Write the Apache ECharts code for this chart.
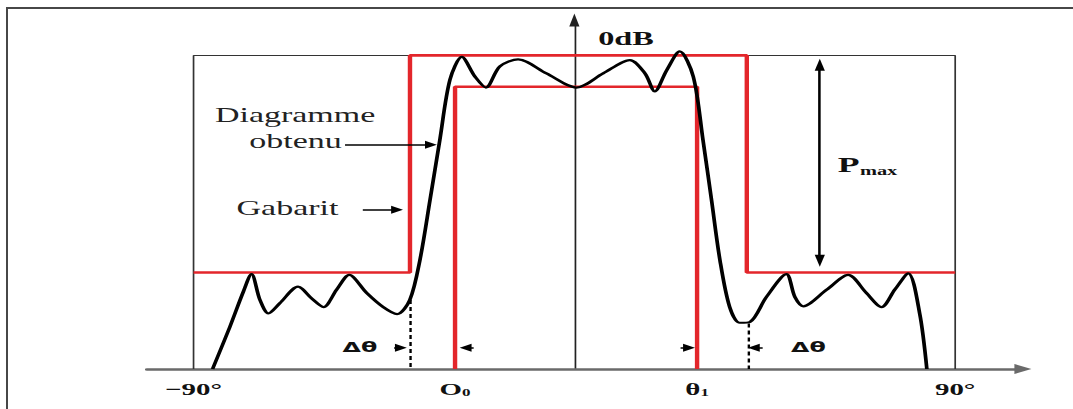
<!DOCTYPE html>
<html>
<head>
<meta charset="utf-8">
<script src="https://cdn.jsdelivr.net/npm/echarts@6/dist/echarts.min.js"></script>
<style>
  html, body { margin: 0; padding: 0; background: #fff; overflow: hidden; }
  #chart { height: 409px; transform-origin: 0 0; }
  /* outer border of the scanned figure */
  #frame {
    position: absolute; left: 6px; top: 7px; width: 2000px; height: 2000px;
    border-left: 2px solid #474747; border-top: 2px solid #474747;
    pointer-events: none;
  }
</style>
</head>
<body>
<div id="chart"></div>
<div id="frame"></div>
<script>
// the source scan is stretched sideways, so the chart is drawn narrow and scaled in x
const K = 1.7

// x ticks (degrees) and their labels
const xTicks = [-90, -28.2, 29.0, 90]
const xTickLabels = ['−90°', '{m|O}{s|0}', '{m|θ}{s|1}', '90°']

// frame of the diagram: [deg, dB]
const box = [[-90, -40], [-90, 0], [90, 0], [90, -40]]
// upper template (gabarit)
const gabarit = [[-90, -27.7], [-38.85, -27.7], [-38.85, 0], [40.75, 0], [40.75, -27.7], [90, -27.7]]
// lower template between O0 and θ1
const innerMask = [[-28.2, -40], [-28.2, -4], [29.0, -4], [29.0, -40]]

// obtained pattern
const pattern = [
  [-85.5, -40], [-81.4, -34.6], [-78.2, -30.1], [-76.3, -27.9], [-74.3, -31.2], [-72.3, -32.9],
  [-69.6, -31.6], [-65.3, -29.5], [-62.1, -31.0], [-59.3, -32.1], [-56.2, -29.9], [-53.2, -28.0],
  [-49.1, -30.3], [-45.2, -32.1], [-41.9, -33.0], [-38.9, -31.2], [-36.5, -26.1], [-34.1, -18.4],
  [-31.8, -10.8], [-29.4, -3.1], [-26.6, -0.2], [-23.5, -2.7], [-20.9, -4.1], [-17.6, -1.4],
  [-13.3, -0.5], [-6.6, -2.3], [0.5, -4.1], [6.8, -2.3], [13.1, -0.6], [16.7, -2.3],
  [19.0, -4.6], [21.8, -1.9], [24.9, 0.5], [28.1, -2.7], [30.4, -10.8], [32.4, -18.4],
  [34.4, -26.1], [36.7, -32.1], [39.1, -34.1], [41.5, -34.0], [45.4, -30.8], [50.1, -27.9],
  [52.1, -30.8], [54.1, -32.0], [59.6, -29.9], [64.7, -28.0], [69.0, -30.3], [72.6, -32.1],
  [75.7, -29.9], [78.9, -27.8], [81.6, -32.9], [83.3, -40]
]

// dashed guides below the template edges: [x, yTop, yBottom]
const guides = [[-38.85, -31.2, -40], [41.0, -34.2, -40]]

// single arrows: [xTail, yTail, xHead, yHead]
const arrows = [
  [-54.2, -11.4, -33.9, -11.4],
  [-50.0, -19.7, -41.9, -19.7],
  [-42.6, -37.3, -41.0, -37.3],
  [-23.8, -37.3, -25.7, -37.3],
  [25.1, -37.3, 27.1, -37.3],
  [44.5, -37.3, 42.4, -37.3]
]
// Pmax double arrow: [x, yTop, yBottom]
const pmaxArrow = [58.0, -1.2, -26.2]

// text notes in data coordinates
const notes = [
  { text: '0dB', x: 12.2, y: 2.2, kind: 'bold' },
  { text: 'Diagramme', x: -66.0, y: -7.6, kind: 'label' },
  { text: 'obtenu', x: -65.9, y: -11.0, kind: 'label' },
  { text: 'Gabarit', x: -67.8, y: -19.5, kind: 'label' },
  { text: 'P', x: 64.8, y: -14.0, kind: 'big' },
  { text: 'max', x: 71.9, y: -14.8, kind: 'sub' },
  { text: 'Δθ', x: -50.7, y: -37.3, kind: 'delta' },
  { text: 'Δθ', x: 55.3, y: -37.3, kind: 'delta' }
]

const SERIF = '"Liberation Serif", "Times New Roman", "DejaVu Serif", serif'
const noteStyle = {
  bold: { family: SERIF, size: 19, weight: 'bold', color: '#111' },
  label: { family: SERIF, size: 20, weight: 400, color: '#222' },
  big: { family: SERIF, size: 21, weight: 'bold', color: '#111' },
  sub: { family: SERIF, size: 12, weight: 'bold', color: '#111' },
  delta: { family: 'DejaVu Sans', size: 14, weight: 'bold', color: '#111' }
}

const RED = '#e3262b'
const el = document.getElementById('chart')
el.style.width = (1073 / K) + 'px'
el.style.transform = 'scaleX(' + K + ')'
const chart = echarts.init(el, null, { renderer: 'svg' })

const markLines = arrows.map(a => [
  { coord: [a[0], a[1]], symbol: 'none' },
  { coord: [a[2], a[3]], symbol: 'triangle', symbolSize: [8, 7] }
])
markLines.push([
  { coord: [pmaxArrow[0], pmaxArrow[1]], symbol: 'triangle', symbolSize: [6, 12] },
  { coord: [pmaxArrow[0], pmaxArrow[2]], symbol: 'triangle', symbolSize: [6, 12] }
])
guides.forEach(g => {
  markLines.push([
    { coord: [g[0], g[1]], symbol: 'none', lineStyle: { type: [4, 3], width: 1.4 } },
    { coord: [g[0], g[2]], symbol: 'none' }
  ])
})

const option = {
  animation: false,
  grid: {
    left: 147 / K,
    right: (1073 - 1023.2) / K,
    top: 20.1,
    bottom: 40,
    containLabel: false,
    outerBoundsMode: 'none'
  },
  xAxis: {
    type: 'value',
    min: -101,
    max: 106,
    splitLine: { show: false },
    axisTick: { show: false },
    axisLine: {
      onZero: false,
      symbol: ['none', 'triangle'],
      symbolSize: [10, 10],
      lineStyle: { color: '#6a6a6a', width: 2.5 }
    },
    axisLabel: {
      customValues: xTicks,
      margin: 12,
      color: '#111',
      fontFamily: 'Liberation Serif',
      fontWeight: 'bold',
      fontSize: 17,
      formatter: v => {
        const i = xTicks.findIndex(t => Math.abs(t - v) < 0.01)
        return i < 0 ? '' : xTickLabels[i]
      },
      rich: {
        m: { fontFamily: 'Liberation Serif', fontWeight: 'bold', fontSize: 17, color: '#111' },
        s: { fontFamily: 'Liberation Serif', fontWeight: 'bold', fontSize: 10, color: '#111', verticalAlign: 'bottom' }
      }
    }
  },
  yAxis: {
    type: 'value',
    min: -40,
    max: 4.5,
    splitLine: { show: false },
    axisTick: { show: false },
    axisLabel: { show: false },
    axisLine: {
      onZero: true,
      symbol: ['none', 'triangle'],
      symbolSize: [6, 13],
      lineStyle: { color: '#222', width: 1 }
    }
  },
  series: [
    {
      name: 'cadre',
      type: 'line',
      data: box,
      showSymbol: false,
      silent: true,
      z: 1,
      lineStyle: { color: '#333', width: 1 },
      markLine: {
        silent: true,
        animation: false,
        symbol: ['none', 'triangle'],
        label: { show: false },
        lineStyle: { color: '#000', width: 1.5, type: 'solid' },
        emphasis: { disabled: true },
        data: markLines
      }
    },
    {
      name: 'Gabarit',
      type: 'line',
      data: gabarit,
      showSymbol: false,
      silent: true,
      z: 2,
      lineStyle: { color: RED, width: 2.6 }
    },
    {
      name: 'Gabarit bas',
      type: 'line',
      data: innerMask,
      showSymbol: false,
      silent: true,
      z: 2,
      lineStyle: { color: RED, width: 2.6 }
    },
    {
      name: 'Diagramme obtenu',
      type: 'line',
      data: pattern,
      smooth: 0.3,
      showSymbol: false,
      silent: true,
      z: 3,
      lineStyle: { color: '#000', width: 2.2 }
    }
  ]
}

chart.setOption(option)

// notes placed through the grid's own scales
const texts = notes.map(n => {
  const p = chart.convertToPixel({ gridIndex: 0 }, [n.x, n.y])
  const st = noteStyle[n.kind]
  return {
    type: 'text',
    x: p[0],
    y: p[1],
    z: 100,
    silent: true,
    style: {
      text: n.text,
      fontFamily: st.family,
      fontSize: st.size,
      fontWeight: st.weight,
      fill: st.color,
      align: 'center',
      verticalAlign: 'middle'
    }
  }
})

chart.setOption({ graphic: texts })
</script>
</body>
</html>
